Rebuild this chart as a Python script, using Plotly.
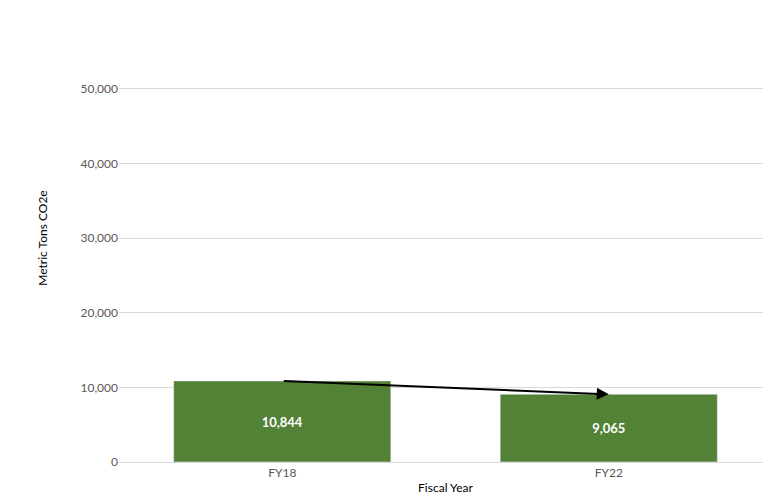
import plotly.graph_objects as go

years = ["FY18", "FY22"]
emissions = [10844, 9065]
labels = ["<b>10,844</b>", "<b>9,065</b>"]

fig = go.Figure()
fig.add_trace(go.Bar(x=years, y=emissions, text=labels, textposition="inside",
                     insidetextanchor="middle", marker_color="#538135",
                     textfont=dict(color="white", size=13, family="Lato"),
                     hoverinfo="skip"))

# trend arrow from FY18 to FY22
fig.add_annotation(x=years[1], y=emissions[1], ax=years[0], ay=emissions[0],
                   xref="x", yref="y", axref="x", ayref="y", text="",
                   showarrow=True, arrowhead=2, arrowsize=1.2, arrowwidth=2,
                   arrowcolor="black")

fig.update_layout(
    width=771, height=500, margin=dict(l=111, r=7, t=6, b=46),
    plot_bgcolor="white", paper_bgcolor="white", bargap=0.335,
    showlegend=False, font=dict(family="Lato", size=12, color="#595959"),
)
fig.update_yaxes(range=[0, 60000], dtick=10000, tickformat=",", showgrid=True,
                 gridcolor="#d9d9d9", zeroline=False, ticks="", ticklen=0,
                 title=dict(text="Metric Tons CO2e", font=dict(color="black", size=12), standoff=30))
fig.update_xaxes(showline=True, linecolor="#d9d9d9",
                 title=dict(text="Fiscal Year", font=dict(color="black", size=12), standoff=4))

fig.write_html("out.html")
